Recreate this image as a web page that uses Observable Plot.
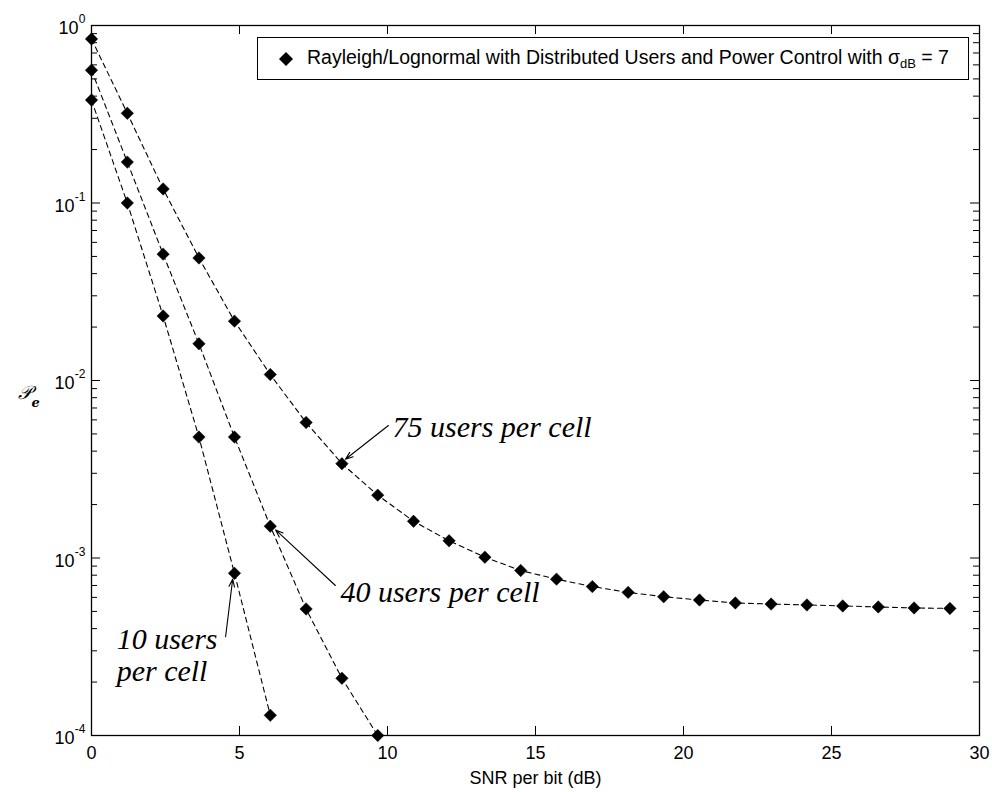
<!DOCTYPE html>
<html>
<head>
<meta charset="utf-8">
<script src="https://cdn.jsdelivr.net/npm/d3@7"></script>
<script src="https://cdn.jsdelivr.net/npm/@observablehq/plot@0.6"></script>
<style>
  body { margin: 0; background: #fff; }
  #wrap { position: relative; width: 992px; height: 792px; background: #fff; }
  #legend {
    position: absolute; left: 257px; top: 37px; width: 712px; height: 43px;
    box-sizing: border-box; border: 1.2px solid #000; background: #fff;
    font-family: "Liberation Sans", Arial, sans-serif; font-size: 19.5px; color: #000;
    display: flex; align-items: center; white-space: nowrap;
  }
  #legend svg { margin-left: 21px; flex: none; }
  #legend span { margin-left: 14px; }
  #legend sub { font-size: 13px; vertical-align: -4px; }
</style>
</head>
<body>
<div id="wrap"><div id="legend"></div></div>
<script>
// ---- data ----
const snr = [0, 1.21, 2.42, 3.63, 4.83, 6.04, 7.25, 8.46, 9.67, 10.88, 12.08, 13.29, 14.5,
             15.71, 16.92, 18.13, 19.33, 20.54, 21.75, 22.96, 24.17, 25.38, 26.58, 27.79, 29.0];
const pe10 = [0.38, 0.10, 0.0231, 0.0048, 0.00082, 0.00013];
const pe40 = [0.56, 0.17, 0.0515, 0.0161, 0.0048, 0.00151, 0.000516, 0.00021, 0.0001];
const pe75 = [0.84, 0.32, 0.12, 0.049, 0.0216, 0.0108, 0.0058, 0.0034, 0.00226, 0.00161,
              0.00125, 0.00101, 0.00085, 0.00076, 0.00069, 0.00064, 0.000605, 0.00058,
              0.000558, 0.00055, 0.000544, 0.000537, 0.00053, 0.000523, 0.00052];
const seriesNames = ["10 users", "40 users", "75 users"];
const xTicks = [0, 5, 10, 15, 20, 25, 30];
const yTicks = [1e-4, 1e-3, 1e-2, 1e-1, 1];
const xLabel = "SNR per bit (dB)";
const yLabel = "𝒫";
const yLabelSub = "e";
const legendText = "Rayleigh/Lognormal with Distributed Users and Power Control with σ";
const legendSub = "dB";
const legendTail = " = 7";
const noteTexts = ["75 users per cell", "40 users per cell", "10 users\nper cell"];
const noteX = [10.17, 8.41, 0.85];
const noteY = [0.0048, 0.000566, 0.000202];
const arrowX1 = [10.03, 8.24, 4.53];
const arrowY1 = [0.00558, 0.0007, 0.00036];
const arrowX2 = [8.58, 6.22, 4.77];
const arrowY2 = [0.0036, 0.00144, 0.00076];

// ---- build tables ----
const rows = [pe10, pe40, pe75].flatMap((s, k) =>
  s.map((v, i) => ({series: seriesNames[k], x: snr[i], y: v})));
const notes = noteTexts.map((t, i) => ({text: t, x: noteX[i], y: noteY[i]}));
const arrows = arrowX1.map((_, i) => ({x1: arrowX1[i], y1: arrowY1[i], x2: arrowX2[i], y2: arrowY2[i]}));
const yMinor = d3.range(-4, 0).flatMap(e => d3.range(2, 10).map(m => m * Math.pow(10, e)));

const W = 992, H = 792, mL = 91, mR = 13, mT = 25, mB = 57;
const innerW = W - mL - mR, innerH = H - mT - mB;
const major = 9, minor = 6;
const expOf = d => String(Math.round(Math.log10(d)));
const yShort = yTicks.filter(d => expOf(d).length === 1);
const yLong = yTicks.filter(d => expOf(d).length > 1);

const chart = Plot.plot({
  width: W, height: H,
  marginLeft: mL, marginRight: mR, marginTop: mT, marginBottom: mB,
  style: {fontFamily: "'Liberation Sans', Arial, sans-serif", fontSize: "18px", background: "#fff", color: "#000"},
  x: {domain: [0, 30], axis: null},
  y: {type: "log", domain: [1e-4, 1], axis: null},
  marks: [
    // inward ticks on all four sides
    Plot.tickX(xTicks, {x: d => d, stroke: "#000", insetTop: innerH - major}),
    Plot.tickX(xTicks, {x: d => d, stroke: "#000", insetBottom: innerH - major}),
    Plot.tickY(yTicks, {y: d => d, stroke: "#000", insetRight: innerW - major}),
    Plot.tickY(yTicks, {y: d => d, stroke: "#000", insetLeft: innerW - major}),
    Plot.tickY(yMinor, {y: d => d, stroke: "#000", insetRight: innerW - minor}),
    Plot.tickY(yMinor, {y: d => d, stroke: "#000", insetLeft: innerW - minor}),
    Plot.frame({stroke: "#000", strokeWidth: 1.3}),
    // x tick labels
    Plot.axisX(xTicks, {tickSize: 0, tickPadding: 11, fontSize: 18, label: null}),
    // y tick labels: "10" with superscript exponent
    Plot.text(yShort, {y: d => d, frameAnchor: "left", text: () => "10", textAnchor: "end",
      dx: -13, dy: 3, fontSize: 18, lineAnchor: "middle"}),
    Plot.text(yLong, {y: d => d, frameAnchor: "left", text: () => "10", textAnchor: "end",
      dx: -17, dy: 3, fontSize: 18, lineAnchor: "middle"}),
    Plot.text(yTicks, {y: d => d, frameAnchor: "left", text: expOf, textAnchor: "end",
      dx: -6, dy: -6, fontSize: 12, lineAnchor: "middle"}),
    // axis labels
    Plot.text([xLabel], {frameAnchor: "bottom", text: d => d, dy: 48, fontSize: 18, lineAnchor: "bottom"}),
    Plot.text([yLabel], {frameAnchor: "left", text: d => d, dx: -74, dy: 12, fontSize: 19,
      fontFamily: "'DejaVu Serif', serif", fontStyle: "italic", textAnchor: "start"}),
    Plot.text([yLabelSub], {frameAnchor: "left", text: d => d, dx: -60, dy: 22, fontSize: 13,
      fontFamily: "'DejaVu Serif', serif", fontStyle: "italic", fontWeight: "bold", textAnchor: "start"}),
    // curves
    Plot.line(rows, {x: "x", y: "y", z: "series", stroke: "#000", strokeWidth: 1.1, strokeDasharray: "5,4"}),
    Plot.dot(rows, {x: "x", y: "y", symbol: "diamond2", r: 5.6, fill: "#000", stroke: "#000", strokeWidth: 0.5}),
    // annotations
    Plot.arrow(arrows, {x1: "x1", y1: "y1", x2: "x2", y2: "y2", stroke: "#000", strokeWidth: 1.1,
      headLength: 11, headAngle: 40}),
    Plot.text(notes, {x: "x", y: "y", text: "text", textAnchor: "start", lineAnchor: "bottom",
      fontFamily: "'Liberation Serif', 'Times New Roman', serif", fontStyle: "italic",
      fontSize: 30, lineHeight: 1.07, fill: "#000"})
  ]
});

document.getElementById("wrap").prepend(chart);

// legend (inside the axes box, top right)
const lg = document.getElementById("legend");
lg.innerHTML = `<svg width="14" height="14" viewBox="0 0 14 14"><path d="M7,0L14,7L7,14L0,7Z" fill="#000"/></svg>` +
  `<span></span>`;
const sp = lg.querySelector("span");
sp.append(legendText);
const sb = document.createElement("sub"); sb.textContent = legendSub; sp.append(sb);
sp.append(legendTail);
</script>
</body>
</html>
